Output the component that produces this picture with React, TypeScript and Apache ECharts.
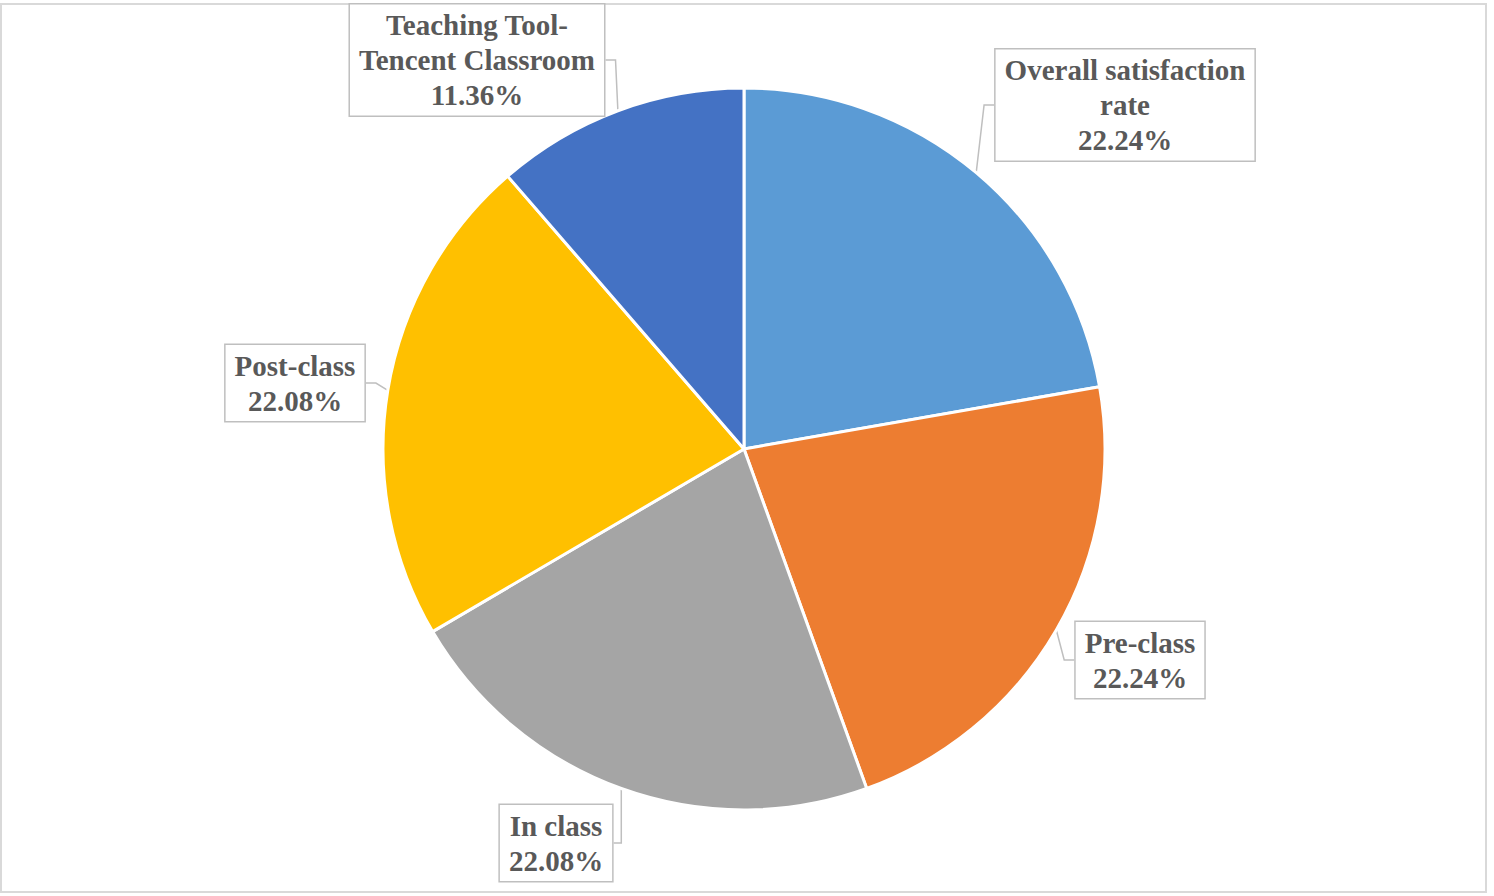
import React, { useEffect, useRef } from "react";
import * as echarts from "echarts";

const categories = [
  "Overall satisfaction rate",
  "Pre-class",
  "In class",
  "Post-class",
  "Teaching Tool-Tencent Classroom",
];
const labelTexts = [
  "Overall satisfaction\nrate",
  "Pre-class",
  "In class",
  "Post-class",
  "Teaching Tool-\nTencent Classroom",
];
const values = [22.24, 22.24, 22.08, 22.08, 11.36];
const colors = ["#5B9BD5", "#ED7D31", "#A5A5A5", "#FFC000", "#4472C4"];
// label box centres (layout only)
const labelPos = [
  [1125, 105],
  [1140, 660],
  [556, 843],
  [295, 383],
  [477, 60],
];

export default function App() {
  const ref = useRef<HTMLDivElement>(null);
  useEffect(() => {
    if (!ref.current) return;
    const chart = echarts.init(ref.current, null, { renderer: "svg" });
    chart.setOption({
      animation: false,
      backgroundColor: "#ffffff",
      graphic: [
        {
          type: "rect",
          shape: { x: 1, y: 4, width: 1485, height: 888 },
          style: { fill: "none", stroke: "#d9d9d9", lineWidth: 2 },
          z: -1,
        },
      ],
      series: [
        {
          type: "pie",
          center: [744, 449],
          radius: 361,
          startAngle: 90,
          clockwise: true,
          itemStyle: { borderColor: "#ffffff", borderWidth: 3 },
          data: categories.map((c, i) => ({
            name: c,
            value: values[i],
            itemStyle: { color: colors[i] },
          })),
          label: {
            show: true,
            position: "outside",
            formatter: (p: any) =>
              labelTexts[p.dataIndex] + "\n" + values[p.dataIndex].toFixed(2) + "%",
            fontFamily: "Liberation Serif",
            fontWeight: "bold",
            fontSize: 29,
            lineHeight: 35,
            color: "#595959",
            align: "center",
            backgroundColor: "#ffffff",
            borderColor: "#bfbfbf",
            borderWidth: 1.5,
            padding: [3, 9, 3, 9],
          },
          labelLine: {
            show: true,
            lineStyle: { color: "#bfbfbf", width: 1.5 },
            length: 10,
            length2: 10,
          },
          labelLayout: (params: any) => {
            const pos = labelPos[params.dataIndex];
            return {
              x: pos[0],
              y: pos[1],
              align: "center",
              verticalAlign: "middle",
            };
          },
        },
      ],
    });
    return () => chart.dispose();
  }, []);
  return (
    <div
      ref={ref}
      style={{ position: "fixed", left: 0, top: 0, width: 1494, height: 896 }}
    />
  );
}
